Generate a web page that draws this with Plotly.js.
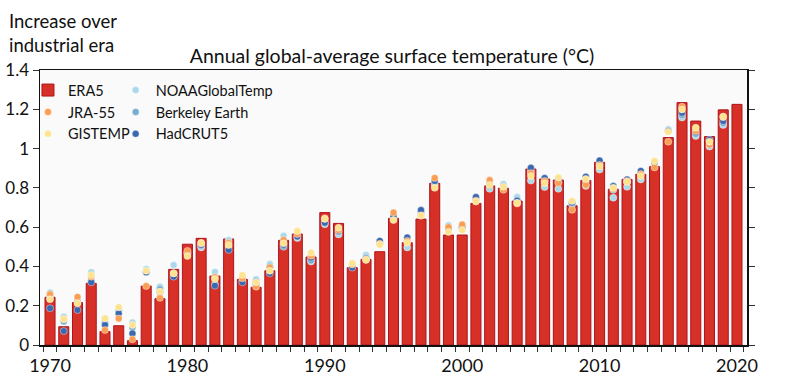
<!DOCTYPE html>
<html>
<head>
<meta charset="utf-8">
<script src="https://cdn.plot.ly/plotly-3.0.1.min.js"></script>
<style>html,body{margin:0;padding:0;background:#fff}#chart{width:800px;height:389px}</style>
</head>
<body>
<div id="chart"></div>
<script>
const years = [];
for (let y = 1970; y <= 2020; y++) years.push(y);

const era5 = [0.243,0.093,0.216,0.314,0.068,0.098,0.022,0.300,0.236,0.385,
  0.513,0.543,0.351,0.540,0.334,0.294,0.378,0.533,0.565,0.448,
  0.674,0.619,0.394,0.436,0.475,0.645,0.521,0.641,0.823,0.560,
  0.560,0.721,0.810,0.798,0.733,0.896,0.845,0.840,0.709,0.838,
  0.930,0.793,0.843,0.869,0.908,1.056,1.234,1.140,1.061,1.197,1.225];

const jra55 = [0.258,0.132,0.245,0.348,0.076,0.135,0.029,0.300,0.240,0.365,
  0.479,0.520,0.345,0.520,0.340,0.297,0.395,0.535,0.565,0.455,
  0.645,0.585,0.410,0.436,0.515,0.674,0.530,0.660,0.850,0.600,
  0.613,0.735,0.840,0.790,0.720,0.875,0.835,0.825,0.688,0.815,
  0.916,0.795,0.835,0.870,0.904,1.035,1.213,1.090,1.020,1.160,null];

const gistemp = [0.233,0.132,0.212,0.356,0.135,0.192,0.102,0.378,0.272,0.365,
  0.453,0.518,0.336,0.509,0.356,0.319,0.378,0.518,0.580,0.470,
  0.642,0.597,0.416,0.433,0.511,0.636,0.521,0.658,0.800,0.575,
  0.585,0.730,0.815,0.806,0.724,0.860,0.824,0.853,0.733,0.845,
  0.909,0.800,0.830,0.860,0.937,1.086,1.199,1.106,1.035,1.163,null];

const noaa = [0.267,0.144,0.228,0.370,0.135,0.190,0.115,0.387,0.297,0.407,
  0.465,0.497,0.372,0.534,0.340,0.335,0.412,0.556,0.545,0.425,
  0.615,0.563,0.400,0.458,0.523,0.650,0.497,0.670,0.815,0.610,
  0.600,0.735,0.795,0.820,0.753,0.837,0.804,0.795,0.720,0.810,
  0.893,0.750,0.805,0.843,0.925,1.098,1.158,1.064,1.010,1.120,null];

const berkeley = [0.245,0.120,0.220,0.330,0.115,0.175,0.090,0.375,0.285,0.350,
  0.470,0.505,0.310,0.500,0.325,0.325,0.400,0.500,0.555,0.430,
  0.625,0.575,0.410,0.440,0.515,0.645,0.530,0.675,0.830,0.590,
  0.590,0.745,0.810,0.810,0.740,0.885,0.835,0.830,0.715,0.835,
  0.925,0.790,0.830,0.875,0.930,1.090,1.170,1.075,1.040,1.130,null];

const hadcrut5 = [0.187,0.071,0.178,0.319,0.102,0.161,0.059,0.370,0.270,0.348,
  0.470,0.510,0.302,0.484,0.319,0.310,0.365,0.510,0.552,0.445,
  0.623,0.580,0.394,0.440,0.530,0.655,0.547,0.687,0.835,0.590,
  0.600,0.753,0.820,0.800,0.735,0.902,0.850,0.840,0.725,0.857,
  0.939,0.809,0.843,0.886,0.930,1.090,1.182,1.085,1.045,1.140,null];

const xTickVals = [1970,1980,1990,2000,2010,2020];
const xTickText = ['1970','1980','1990','2000','2010','2020'];

const FONT = 'Lato, "Open Sans", sans-serif';

function dots(name, vals, color, legend) {
  return {
    type: 'scatter', mode: 'markers', name: name, x: years, y: vals,
    legend: legend,
    marker: {size: 7, color: color, line: {width: 0.5, color: 'rgba(255,255,255,0.8)'}},
    hoverinfo: 'x+y+name'
  };
}

const traces = [
  {type: 'bar', name: 'ERA5', x: years, y: era5, width: 0.73, legend: 'legend',
   marker: {color: 'rgb(215,48,39)', line: {color: 'rgb(175,20,30)', width: 1}}},
  dots('NOAAGlobalTemp', noaa, '#abd9e9', 'legend2'),
  dots('Berkeley Earth', berkeley, '#74add1', 'legend2'),
  dots('HadCRUT5', hadcrut5, '#3a68b0', 'legend2'),
  dots('JRA-55', jra55, '#f99e55', 'legend'),
  dots('GISTEMP', gistemp, '#fee38f', 'legend')
];

const legendCommon = {
  orientation: 'v', yanchor: 'top', xanchor: 'left',
  bgcolor: 'rgba(0,0,0,0)', borderwidth: 0,
  font: {family: FONT, size: 14.5, color: '#111'},
  itemsizing: 'trace', tracegroupgap: 0
};

const layout = {
  width: 800, height: 389,
  margin: {l: 40, r: 53, t: 70, b: 44},
  paper_bgcolor: '#ffffff',
  plot_bgcolor: '#fafafa',
  font: {family: FONT, size: 17, color: '#111'},
  showlegend: true,
  legend: Object.assign({}, legendCommon, {x: -0.017, y: 0.985}),
  legend2: Object.assign({}, legendCommon, {x: 0.107, y: 0.985}),
  title: {text: 'Annual global-average surface temperature (°C)',
          font: {family: FONT, size: 19.5, color: '#111'},
          x: 0.49, xanchor: 'center', y: 0.8555, yanchor: 'middle'},
  xaxis: {
    range: [1969.27, 2020.73],
    tickmode: 'array', tickvals: xTickVals, ticktext: xTickText,
    ticks: '', showgrid: false, zeroline: false,
    showline: true, linecolor: '#111', linewidth: 1.5, mirror: true,
    tickfont: {family: FONT, size: 18, color: '#111'},
    ticklabelstandoff: 4,
    minor: {tick0: 1969.5, dtick: 1, ticks: 'outside', ticklen: 5, tickcolor: '#333', tickwidth: 1, showgrid: false}
  },
  yaxis: {
    range: [0, 1.4], dtick: 0.2, tick0: 0,
    ticks: 'outside', ticklen: 6, tickcolor: '#333', tickwidth: 1,
    showgrid: false, zeroline: false,
    showline: true, linecolor: '#111', linewidth: 1.5, mirror: 'ticks',
    tickfont: {family: FONT, size: 17, color: '#111'},
    ticklabelstandoff: 0
  },
  annotations: [
    {xref: 'paper', yref: 'paper', x: -0.047, y: 1.227, xanchor: 'left', yanchor: 'top',
     showarrow: false, align: 'left', text: 'Increase over<br>industrial era',
     font: {family: FONT, size: 18.5, color: '#111'}}
  ],
  bargap: 0.27
};

Plotly.newPlot('chart', traces, layout, {displayModeBar: false, staticPlot: true});
</script>
</body>
</html>
